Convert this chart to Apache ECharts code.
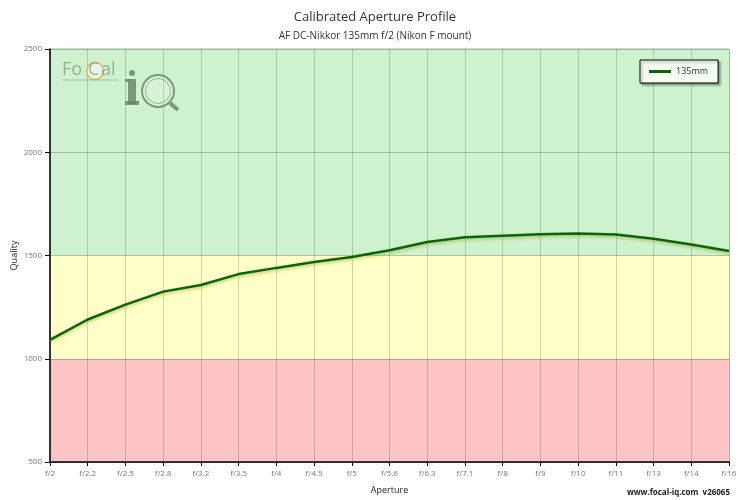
<!DOCTYPE html>
<html><head><meta charset="utf-8">
<script src="https://cdn.jsdelivr.net/npm/echarts@6/dist/echarts.min.js"></script>
<style>html,body{margin:0;padding:0;background:#fff}#c{width:750px;height:500px}</style>
</head><body><div id="c"></div>
<script>
const apertures = ['f/2','f/2.2','f/2.5','f/2.8','f/3.2','f/3.5','f/4','f/4.5','f/5','f/5.6','f/6.3','f/7.1','f/8','f/9','f/10','f/11','f/13','f/14','f/16'];
const quality135 = [1091,1190,1262,1325,1357,1410,1440,1468,1493,1525,1565,1588,1596,1603,1607,1602,1581,1553,1522];
const bands = [[500,1000,'#FFC4C4'],[1000,1500,'#FFFFC8'],[1500,2500,'#CEF2CE']];
const FONT = '"Open Sans", "Noto Sans", sans-serif';
const LOGO = 'rgba(100,130,100,0.8)';
const logoEls = [
  {type:'circle', shape:{cx:95, cy:71, r:8.5}, style:{fill:'rgba(255,255,255,0.45)', stroke:'rgba(225,175,90,0.85)', lineWidth:1.5}},
  {type:'text', x:62, y:61, style:{text:'Fo', fontSize:18, fontFamily:FONT, fill:'rgba(120,140,120,0.65)'}},
  {type:'text', x:88, y:61, style:{text:'C', fontSize:18, fontFamily:FONT, fill:'rgba(120,140,120,0.65)'}},
  {type:'text', x:101, y:61, style:{text:'al', fontSize:18, fontFamily:FONT, fill:'rgba(120,140,120,0.65)'}},
  {type:'line', shape:{x1:62, y1:80, x2:118, y2:80}, style:{stroke:'rgba(120,140,120,0.5)', lineWidth:1}},
  {type:'circle', shape:{cx:132, cy:73, r:3}, style:{fill:LOGO}},
  {type:'rect', shape:{x:128, y:79, width:8, height:25}, style:{fill:LOGO}},
  {type:'rect', shape:{x:125, y:101, width:14, height:4}, style:{fill:LOGO}},
  {type:'rect', shape:{x:125, y:79, width:5, height:3}, style:{fill:LOGO}},
  {type:'circle', shape:{cx:158, cy:91, r:16}, style:{fill:'rgba(255,255,255,0.15)', stroke:LOGO, lineWidth:2}},
  {type:'circle', shape:{cx:158, cy:91, r:12.5}, style:{fill:'none', stroke:'rgba(100,130,100,0.55)', lineWidth:1}},
  {type:'line', shape:{x1:170, y1:103, x2:178, y2:110}, style:{stroke:LOGO, lineWidth:4}}
].map(e => Object.assign(e, {z:4, silent:true}));
const chart = echarts.init(document.getElementById('c'));
chart.setOption({
  animation:false,
  textStyle:{fontFamily:FONT},
  title:[
    {text:'Calibrated Aperture Profile', left:'center', top:6, textStyle:{fontSize:13, fontWeight:'normal', color:'#333', fontFamily:FONT}},
    {text:'AF DC-Nikkor 135mm f/2 (Nikon F mount)', left:'center', top:26, textStyle:{fontSize:10, fontWeight:'normal', color:'#333', fontFamily:FONT}}
  ],
  grid:{left:50, right:21, top:49, bottom:38, show:true, borderColor:'#aaa', borderWidth:1, backgroundColor:'transparent', containLabel:false, outerBoundsMode:'none'},
  legend:{data:['135mm'], left:640, top:60, orient:'horizontal', backgroundColor:'#F4FCF2', borderColor:'#000', borderWidth:1, padding:[7,10,7,9],
    itemWidth:22, itemHeight:3, icon:'rect', itemGap:5, textStyle:{fontSize:9, color:'#333'},
    shadowColor:'rgba(0,0,0,0.35)', shadowBlur:2, shadowOffsetX:2, shadowOffsetY:2},
  xAxis:{type:'category', data:apertures, boundaryGap:false, z:3,
    name:'Aperture', nameLocation:'middle', nameGap:24, nameMoveOverlap:false, nameTextStyle:{fontSize:9, color:'#222'},
    axisLine:{show:true, lineStyle:{color:'#000', width:1.5}},
    axisTick:{show:true, length:4, inside:false, lineStyle:{color:'#000'}, alignWithLabel:true},
    axisLabel:{fontSize:8, color:'#777', margin:8},
    splitLine:{show:true, lineStyle:{color:'rgba(0,0,0,0.17)', width:1}}},
  yAxis:{type:'value', min:500, max:2500, interval:500, z:3,
    name:'Quality', nameLocation:'middle', nameGap:31, nameMoveOverlap:false, nameRotate:90, nameTextStyle:{fontSize:9, color:'#222'},
    axisLine:{show:true, lineStyle:{color:'#000', width:1.5}},
    axisTick:{show:true, length:5, lineStyle:{color:'#000'}},
    axisLabel:{fontSize:8, color:'#777', margin:8, formatter: v => String(v)},
    splitLine:{show:true, lineStyle:{color:'rgba(0,0,0,0.22)', width:1}}},
  graphic:logoEls.concat([
    {type:'text', right:20, bottom:3, style:{text:'www.focal-iq.com  v26065', fontSize:8, fontWeight:'bold', fontFamily:FONT, fill:'#222'}}
  ]),
  series:[
    {name:'bands', type:'line', data:[], z:1, silent:true,
      markArea:{silent:true, data: bands.map(b => [{yAxis:b[0], itemStyle:{color:b[2]}}, {yAxis:b[1]}])}},
    {name:'135mm', type:'line', data:quality135, z:5, symbol:'none', smooth:false,
      lineStyle:{color:'#0A640A', width:2.5, shadowColor:'rgba(140,150,20,0.45)', shadowBlur:3, shadowOffsetY:2},
      itemStyle:{color:'#0A640A'}}
  ]
});
</script></body></html>
